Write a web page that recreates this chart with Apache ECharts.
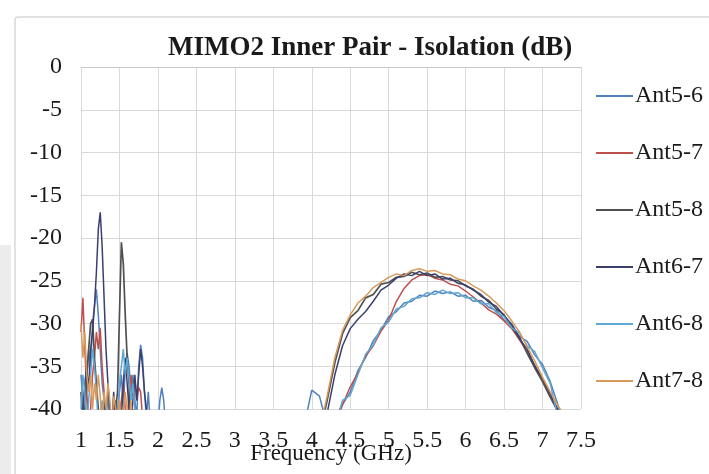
<!DOCTYPE html>
<html>
<head>
<meta charset="utf-8">
<script src="https://cdn.jsdelivr.net/npm/echarts@6/dist/echarts.min.js"></script>
<style>
  html, body { margin: 0; padding: 0; background: #fff; }
  #chart { width: 709px; height: 474px; }
</style>
</head>
<body>
<div id="chart"></div>
<script>
// frequency points (GHz)
const freqLow = [1.000, 1.025, 1.050, 1.075, 1.100, 1.125, 1.150, 1.175, 1.200, 1.225,
  1.250, 1.275, 1.300, 1.325, 1.350, 1.375, 1.400, 1.425, 1.450, 1.475,
  1.500, 1.525, 1.550, 1.575, 1.600, 1.625, 1.650, 1.675, 1.700, 1.725,
  1.750, 1.775, 1.800, 1.825, 1.850, 1.875, 1.900, 1.925, 1.950, 1.975,
  2.000, 2.025, 2.050, 2.075, 2.100, 2.125, 2.150];
const freqHigh = [3.9, 4.0, 4.1, 4.2, 4.3, 4.4, 4.5, 4.6, 4.7, 4.8,
  4.9, 5.0, 5.1, 5.2, 5.3, 5.4, 5.5, 5.6, 5.7, 5.8,
  5.9, 6.0, 6.1, 6.2, 6.3, 6.4, 6.5, 6.6, 6.7, 6.8,
  6.9, 7.0, 7.1, 7.2, 7.3, 7.4];

const names = ['Ant5-6', 'Ant5-7', 'Ant5-8', 'Ant6-7', 'Ant6-8', 'Ant7-8'];
const colors = ['#4f81bd', '#c0504d', '#505050', '#3b3f6e', '#5ea7d3', '#d99a5b'];

// isolation (dB), values below -40 fall outside the plot
const ant56Low = [-36, -39, -42, -37, -33, -35, -30, -28, -26, -29,
  -33, -37, -39, -42, -38, -42, -42, -40, -42, -42,
  -38, -36, -40, -35, -33.5, -35, -38, -36, -39, -41,
  -35, -32.5, -34, -38, -41, -38, -42, -42, -42, -42,
  -42, -39, -37.5, -39, -42, -42, -42];
const ant57Low = [-31, -27, -33, -38, -42, -40, -36, -34, -31, -33,
  -30.5, -35, -38, -42, -42, -40, -42, -42, -39, -42,
  -42, -39, -37, -40, -42, -38, -36, -38.5, -36.5, -39,
  -37.5, -38, -41, -42, -42, -42, -42, -42, -42, -42,
  -42, -42, -42, -42, -42, -42, -42];
const ant58Low = [-38, -42, -40, -36, -33, -30, -29.5, -34, -37, -40,
  -42, -42, -39, -42, -42, -42, -42, -42, -40, -38,
  -29, -20.5, -23, -29, -34, -37, -42, -40, -42, -42,
  -42, -42, -42, -42, -42, -42, -42, -42, -42, -42,
  -42, -42, -42, -42, -42, -42, -42];
const ant67Low = [-42, -40, -37, -35, -38, -33, -31, -28, -24, -19,
  -17, -21, -27, -33, -37, -40, -42, -38, -42, -42,
  -42, -41, -37, -34, -37, -40, -42, -39, -36, -39,
  -36, -33, -35, -38, -40, -42, -42, -42, -42, -42,
  -42, -42, -42, -42, -42, -42, -42];
const ant68Low = [-40, -36, -38, -42, -39, -36, -33, -35, -38, -42,
  -42, -39, -42, -42, -42, -42, -42, -42, -42, -41,
  -37, -35, -33, -36, -34, -36.5, -39, -37, -40, -42,
  -42, -42, -42, -42, -42, -42, -42, -42, -42, -42,
  -42, -42, -42, -42, -42, -42, -42];
const ant78Low = [-30, -34, -31, -36, -38, -36, -40, -37, -39, -36,
  -38.5, -42, -38, -40, -37, -39, -42, -38.5, -40, -42,
  -39, -42, -42, -38, -40, -42, -39, -42, -42, -42,
  -42, -42, -42, -42, -42, -42, -42, -42, -42, -42,
  -42, -42, -42, -42, -42, -42, -42];

const ant56High = [-42, -37.8, -38.5, -42, -41, -39.5, -38.0, -35.5, -34.0, -32.0,
  -30.8, -29.2, -28.6, -27.6, -27.4, -26.7, -26.8, -26.2, -26.5, -26.3,
  -26.8, -26.7, -27.4, -27.3, -28.1, -28.5, -29.6, -30.1, -31.5, -32.1,
  -33.7, -34.8, -36.8, -39.5, -43, -45];
const ant57High = [-45, -45, -45, -44, -42, -39.5, -37.4, -35.8, -33.8, -32.6,
  -30.9, -29.6, -27.4, -25.9, -24.9, -24.4, -24.3, -24.7, -24.9, -25.4,
  -25.6, -26.2, -26.9, -27.6, -28.4, -28.9, -29.7, -30.6, -31.9, -33.3,
  -34.9, -36.7, -38.5, -40.2, -42.5, -44];
const ant58High = [-45, -45, -43, -39, -34.6, -31.2, -29.3, -28.5, -27.0, -26.6,
  -25.4, -25.2, -24.6, -24.5, -24.0, -24.3, -24.1, -24.6, -24.5, -24.9,
  -25.0, -25.6, -26.0, -26.8, -27.3, -28.3, -29.0, -30.4, -31.6, -33.5,
  -35.2, -36.8, -38.6, -40.3, -42, -44];
const ant67High = [-45, -45, -44, -40.5, -36, -32.6, -30.6, -29.5, -28.6, -27.4,
  -26.1, -25.5, -24.7, -24.2, -24.4, -23.9, -24.4, -24.2, -24.8, -24.7,
  -25.3, -25.5, -26.1, -26.6, -27.5, -28.0, -29.1, -30.1, -31.8, -33.0,
  -35.0, -36.4, -38.2, -40.1, -42.5, -44];
const ant68High = [-45, -44, -43, -44, -42, -39.0, -38.4, -36.0, -33.6, -32.5,
  -30.5, -29.8, -28.3, -28.0, -27.1, -27.0, -26.4, -26.6, -26.1, -26.5,
  -26.4, -27.0, -27.0, -27.7, -27.7, -28.7, -29.2, -30.5, -31.1, -32.6,
  -33.3, -35.2, -37.0, -41, -44, -45];
const ant78High = [-45, -45, -42.5, -38.5, -34.0, -30.8, -29.0, -27.6, -26.8, -25.8,
  -25.2, -24.6, -24.2, -24.4, -23.8, -23.6, -23.9, -23.8, -24.2, -24.3,
  -24.8, -25.0, -25.6, -26.1, -26.8, -27.6, -28.5, -29.7, -31.0, -32.7,
  -34.4, -36.3, -38.0, -39.6, -41, -43];

const lowSets = [ant56Low, ant57Low, ant58Low, ant67Low, ant68Low, ant78Low];
const highSets = [ant56High, ant57High, ant58High, ant67High, ant68High, ant78High];

function buildData(low, high) {
  let d = [];
  freqLow.forEach((f, i) => d.push([f, low[i]]));
  d.push([3, '-']);
  freqHigh.forEach((f, i) => d.push([f, high[i]]));
  return d;
}

const serif = '"Liberation Serif", "Times New Roman", serif';
let myChart = echarts.init(document.getElementById('chart'));
let option = {
  animation: false,
  backgroundColor: '#fff',
  graphic: [
    {
      type: 'rect',
      shape: { x: 15, y: 17, width: 720, height: 480, r: 3 },
      style: { fill: 'none', stroke: '#d9d9d9', lineWidth: 1.5 },
      silent: true
    },
    {
      type: 'rect',
      shape: { x: 0, y: 245, width: 11, height: 229 },
      style: { fill: '#ececec' },
      silent: true
    }
  ],
  title: {
    text: 'MIMO2 Inner Pair - Isolation (dB)',
    left: 168,
    top: 35,
    padding: 0,
    textStyle: { fontFamily: serif, fontSize: 27, fontWeight: 'bold', color: '#1a1a1a' }
  },
  legend: {
    orient: 'vertical',
    left: 596,
    top: 84,
    padding: 0,
    icon: 'rect',
    itemWidth: 37,
    itemHeight: 2,
    itemGap: 33,
    data: names,
    textStyle: { fontFamily: serif, fontSize: 24, color: '#1a1a1a', padding: [0, 0, 0, -3] }
  },
  grid: { left: 81, right: 128, top: 67, bottom: 65, outerBoundsMode: 'none', containLabel: false },
  xAxis: {
    type: 'value',
    min: 1,
    max: 7.5,
    interval: 0.5,
    name: 'Frequency (GHz)',
    nameLocation: 'middle',
    nameGap: 33,
    nameMoveOverlap: false,
    nameTextStyle: { fontFamily: serif, fontSize: 23, color: '#1a1a1a' },
    axisLine: { show: true, lineStyle: { color: '#c8c8c8', width: 1 } },
    axisTick: { show: false },
    axisLabel: { fontFamily: serif, fontSize: 24, color: '#1a1a1a', margin: 20 },
    splitLine: { show: true, lineStyle: { color: '#d9d9d9', width: 1 } }
  },
  yAxis: {
    type: 'value',
    min: -40,
    max: 0,
    interval: 5,
    axisLine: { show: false },
    axisTick: { show: false },
    axisLabel: { fontFamily: serif, fontSize: 24, color: '#1a1a1a', margin: 19 },
    splitLine: { show: true, lineStyle: { color: '#d9d9d9', width: 1 } }
  },
  series: names.map((n, k) => ({
    name: n,
    type: 'line',
    symbol: 'none',
    showSymbol: false,
    clip: true,
    connectNulls: false,
    color: colors[k],
    lineStyle: { width: k === 2 ? 1.7 : 1.5, color: colors[k] },
    data: buildData(lowSets[k], highSets[k])
  }))
};
option && myChart.setOption(option);
</script>
</body>
</html>
